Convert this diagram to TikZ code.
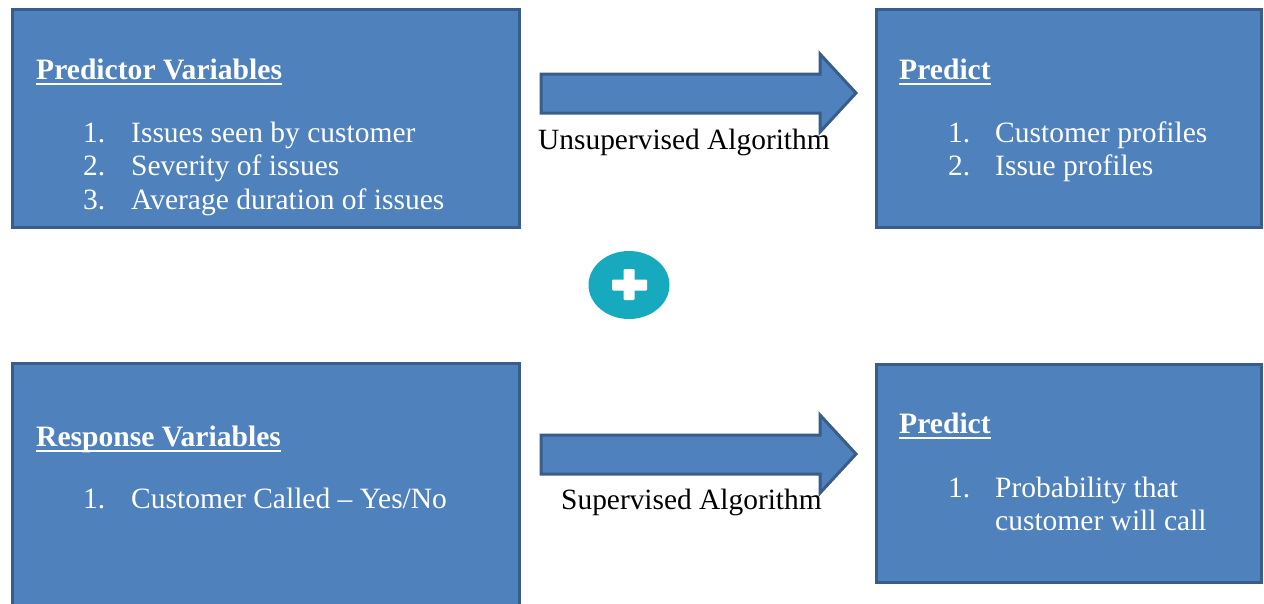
\documentclass[tikz,border=0pt]{standalone}
\usepackage{fontspec}
\usetikzlibrary{shapes.geometric}
\setmainfont{Liberation Serif}
\definecolor{boxfill}{HTML}{4F81BD}
\definecolor{boxline}{HTML}{385D8A}
\definecolor{plusteal}{HTML}{17AABF}
\tikzset{
  panel/.style={draw=boxline, fill=boxfill, line width=3pt},
  title/.style={anchor=base west, inner sep=0pt, text=white, font=\fontsize{29.6}{34}\selectfont\bfseries},
  item/.style={anchor=base west, inner sep=0pt, text=white, font=\fontsize{29.5}{34}\selectfont},
  label/.style={anchor=base west, inner sep=0pt, text=black, font=\fontsize{29.4}{34}\selectfont},
  uline/.style={draw=white, line width=2.5pt},
  blockarrow/.style={draw=boxline, fill=boxfill, line width=3pt, line join=miter}
}
\begin{document}
\begin{tikzpicture}[x=1pt,y=-1pt]
\useasboundingbox (0,0) rectangle (1264,603);
% panels
\draw[panel] (12,9) rectangle (519,227);
\draw[panel] (876,9) rectangle (1261,227);
\draw[panel] (12,363) rectangle (519,610);
\draw[panel] (876,364) rectangle (1261,582);
% arrows
\draw[blockarrow] (541,74) -- (820,74) -- (820,54) -- (856,93) -- (820,132) -- (820,113) -- (541,113) -- cycle;
\draw[blockarrow] (541,435) -- (820,435) -- (820,415) -- (856,454) -- (820,493) -- (820,474) -- (541,474) -- cycle;
% plus
\node[draw=none, fill=plusteal, ellipse, minimum width=81pt, minimum height=68pt, inner sep=0pt] (plus) at (629,285) {};
\fill[white, rounded corners=1pt] (plus.center) ++(-17,-5.5) rectangle ++(35,11);
\fill[white, rounded corners=1pt] (plus.center) ++(-5.5,-16) rectangle ++(11,31);
% top-left text
\node[title] (t1) at (36,79) {Predictor Variables};
\draw[uline] ([yshift=-5pt]t1.base west) -- ([yshift=-5pt]t1.base east);
\node[item] (n11) at (83,142) {1.};
\node[item] (i11) at (131,142) {Issues seen by customer};
\node[item] (n12) at (83,175) {2.};
\node[item] (i12) at (131,175) {Severity of issues};
\node[item] (n13) at (83,209) {3.};
\node[item] (i13) at (131,209) {Average duration of issues};
% top-right text
\node[title] (t2) at (899,79) {Predict};
\draw[uline] ([yshift=-5pt]t2.base west) -- ([yshift=-5pt]t2.base east);
\node[item] (n21) at (948,142) {1.};
\node[item] (i21) at (995,142) {Customer profiles};
\node[item] (n22) at (948,175) {2.};
\node[item] (i22) at (995,175) {Issue profiles};
% arrow labels
\node[label] (l1) at (538,149) {Unsupervised Algorithm};
\node[label] (l2) at (561,509) {Supervised Algorithm};
% bottom-left text
\node[title] (t3) at (36,446) {Response Variables};
\draw[uline] ([yshift=-5pt]t3.base west) -- ([yshift=-5pt]t3.base east);
\node[item] (n31) at (83,508) {1.};
\node[item] (i31) at (131,508) {Customer Called -- Yes/No};
% bottom-right text
\node[title] (t4) at (899,433) {Predict};
\draw[uline] ([yshift=-5pt]t4.base west) -- ([yshift=-5pt]t4.base east);
\node[item] (n41) at (948,497) {1.};
\node[item] (i41) at (995,497) {Probability that};
\node[item] (i42) at (995,530) {customer will call};
\end{tikzpicture}
\end{document}
